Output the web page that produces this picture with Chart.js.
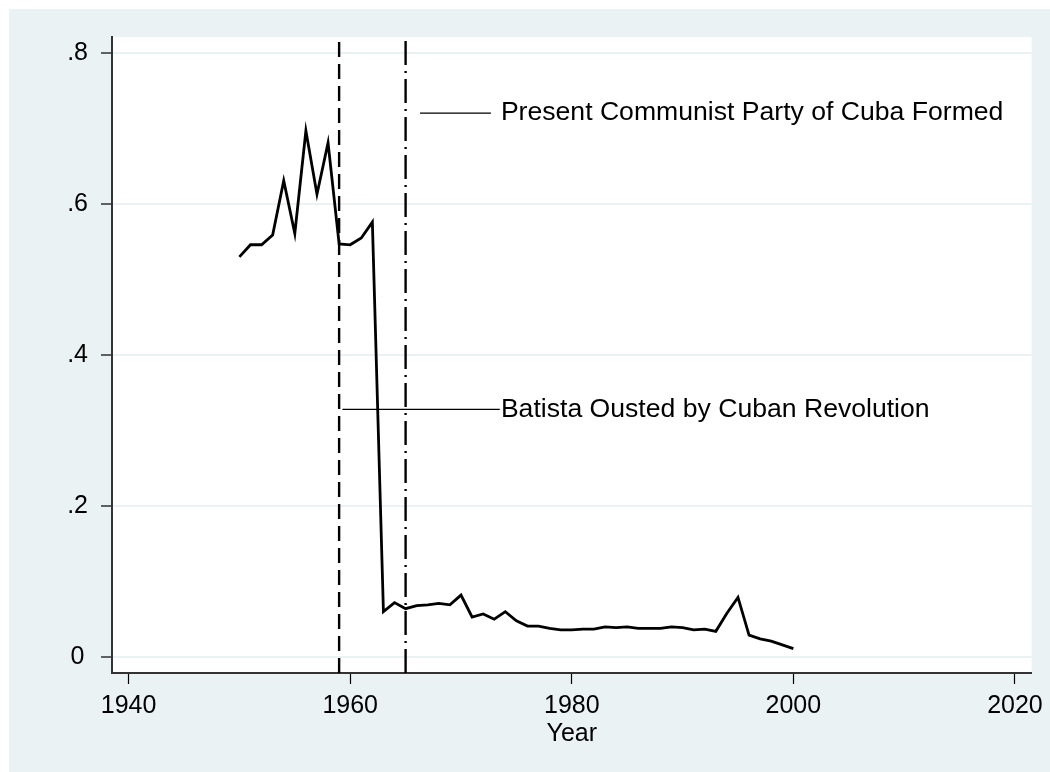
<!DOCTYPE html>
<html>
<head>
<meta charset="utf-8">
<script src="https://cdn.jsdelivr.net/npm/chart.js@4"></script>
<style>
  html, body { margin: 0; padding: 0; background: #fff; }
  canvas { display: block; }
</style>
</head>
<body>
<canvas id="cubaChart" width="1050" height="772"></canvas>
<script>
// series
const years = [1950, 1951, 1952, 1953, 1954, 1955, 1956, 1957, 1958, 1959,
  1960, 1961, 1962, 1963, 1964, 1965, 1966, 1967, 1968, 1969,
  1970, 1971, 1972, 1973, 1974, 1975, 1976, 1977, 1978, 1979,
  1980, 1981, 1982, 1983, 1984, 1985, 1986, 1987, 1988, 1989,
  1990, 1991, 1992, 1993, 1994, 1995, 1996, 1997, 1998, 1999, 2000];
const values = [0.530, 0.546, 0.546, 0.559, 0.631, 0.561, 0.697, 0.613, 0.681, 0.547,
  0.546, 0.555, 0.576, 0.060, 0.072, 0.064, 0.068, 0.069, 0.071, 0.069,
  0.082, 0.053, 0.057, 0.050, 0.060, 0.048, 0.041, 0.041, 0.038, 0.036,
  0.036, 0.037, 0.037, 0.040, 0.039, 0.040, 0.038, 0.038, 0.038, 0.040,
  0.039, 0.036, 0.037, 0.034, 0.058, 0.079, 0.029, 0.024, 0.021, 0.016, 0.011];

const xTicks = [1940, 1960, 1980, 2000, 2020];
const yTicks = [0, 0.2, 0.4, 0.6, 0.8];
const yTickLabels = ['0', '.2', '.4', '.6', '.8'];
const xRange = [1938.5, 2021.5];
const yRange = [-0.0212, 0.8212];

// events: year of vertical line
const batistaYear = 1959;
const pccYear = 1965;

// annotation labels (pointer from..to, height, text start)
const batistaLabel = 'Batista Ousted by Cuban Revolution';
const batistaPointer = [1959.3, 1973.5];
const batistaLevel = 0.328;
const pccLabel = 'Present Communist Party of Cuba Formed';
const pccPointer = [1966.3, 1972.7];
const pccLevel = 0.7205;
const labelStartYear = 1973.6;

const BG = '#EAF2F3';
Chart.defaults.font.family = '"Liberation Sans", Arial, sans-serif';
Chart.defaults.color = '#000';

const backdrop = {
  id: 'backdrop',
  beforeDraw(chart) {
    const c = chart.ctx, a = chart.chartArea;
    c.save();
    c.fillStyle = '#fff';
    c.fillRect(0, 0, chart.width, chart.height);
    c.fillStyle = BG;
    c.fillRect(9, 9, chart.width - 9, chart.height - 9);
    c.fillStyle = '#fff';
    c.fillRect(a.left, a.top, a.right - a.left, a.bottom - a.top);
    c.restore();
  }
};

const labels = {
  id: 'labels',
  afterDatasetsDraw(chart) {
    const c = chart.ctx, xs = chart.scales.x, ys = chart.scales.y;
    c.save();
    c.font = '26.6px "Liberation Sans", Arial, sans-serif';
    c.fillStyle = '#000';
    c.textAlign = 'left';
    c.textBaseline = 'middle';
    c.fillText(pccLabel, xs.getPixelForValue(labelStartYear), ys.getPixelForValue(pccLevel));
    c.fillText(batistaLabel, xs.getPixelForValue(labelStartYear), ys.getPixelForValue(batistaLevel));
    c.restore();
  }
};

function vline(year, dash) {
  return {
    data: [{ x: year, y: yRange[0] }, { x: year, y: yRange[1] }],
    borderColor: '#000', borderWidth: 2.4, borderDash: dash,
    pointRadius: 0, tension: 0
  };
}
function pointer(span, level) {
  return {
    data: [{ x: span[0], y: level }, { x: span[1], y: level }],
    borderColor: '#000', borderWidth: 1.3, pointRadius: 0, tension: 0
  };
}

new Chart(document.getElementById('cubaChart'), {
  type: 'line',
  data: {
    datasets: [
      {
        data: years.map((y, i) => ({ x: y, y: values[i] })),
        borderColor: '#000', borderWidth: 2.8, pointRadius: 0, tension: 0,
        borderJoinStyle: 'miter'
      },
      vline(batistaYear, [15, 7]),
      vline(pccYear, [24, 6, 2, 6]),
      pointer(batistaPointer, batistaLevel),
      pointer(pccPointer, pccLevel)
    ]
  },
  options: {
    responsive: false,
    animation: false,
    devicePixelRatio: 1,
    layout: { padding: { top: 37, right: 13, left: 0, bottom: 0 } },
    plugins: { legend: { display: false }, tooltip: { enabled: false } },
    scales: {
      x: {
        type: 'linear',
        min: xRange[0], max: xRange[1],
        afterBuildTicks(s) { s.ticks = xTicks.map(v => ({ value: v })); },
        afterFit(s) { s.height = 99; },
        grid: { drawOnChartArea: false, tickLength: 11, tickColor: '#000', tickWidth: 1.2 },
        border: { color: '#333', width: 2 },
        ticks: { font: { size: 25 }, padding: 7, maxRotation: 0,
          callback: v => String(v) },
        title: { display: true, text: 'Year', font: { size: 25 }, padding: { top: 0, bottom: 23 } }
      },
      y: {
        min: yRange[0], max: yRange[1],
        afterBuildTicks(s) { s.ticks = yTicks.map(v => ({ value: v })); },
        afterFit(s) { s.width = 112; },
        grid: { color: BG, lineWidth: 2, tickLength: 11, tickColor: '#000', tickWidth: 1.2 },
        border: { color: '#333', width: 2 },
        ticks: { font: { size: 25 }, padding: 13, crossAlign: 'center',
          callback: v => yTickLabels[yTicks.indexOf(v)] ?? '' }
      }
    }
  },
  plugins: [backdrop, labels]
});
</script>
</body>
</html>
